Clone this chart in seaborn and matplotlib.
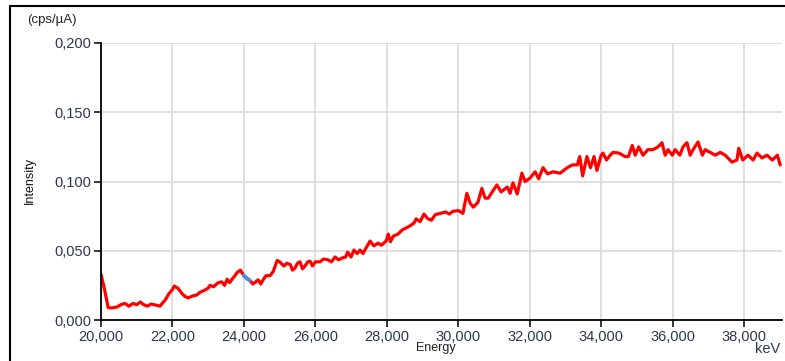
import seaborn as sns
import pandas as pd
from matplotlib import pyplot as plt
from matplotlib.lines import Line2D
from matplotlib.ticker import FuncFormatter

#-------------------------Data-------------------------
energy = [20000, 20100, 20200, 20300, 20450, 20550, 20670, 20780, 20900, 21000,
          21100, 21200, 21300, 21400, 21500, 21650, 21800, 21900, 22000, 22050,
          22150, 22270, 22350, 22440, 22580, 22680, 22770, 22900, 23000, 23050,
          23150, 23280, 23380, 23460, 23530, 23600, 23670, 23750, 23800, 23900,
          23950, 24000, 24080, 24150, 24250, 24330, 24400, 24470, 24550, 24620,
          24730, 24820, 24930, 25000, 25120, 25200, 25300, 25360, 25430, 25500,
          25570, 25640, 25710, 25790, 25850, 25920, 26000, 26130, 26230, 26350,
          26450, 26550, 26650, 26770, 26850, 26900, 27000, 27080, 27170, 27250,
          27330, 27420, 27530, 27640, 27750, 27850, 27980, 28040, 28100, 28180,
          28310, 28430, 28540, 28650, 28760, 28820, 28930, 29040, 29130, 29250,
          29350, 29500, 29650, 29750, 29850, 30000, 30130, 30240, 30330, 30420,
          30550, 30660, 30750, 30840, 30950, 31080, 31200, 31370, 31450, 31530,
          31650, 31780, 31870, 32010, 32150, 32250, 32370, 32500, 32650, 32850,
          33050, 33200, 33330, 33400, 33480, 33600, 33700, 33800, 33880, 34000,
          34050, 34150, 34250, 34330, 34500, 34670, 34760, 34870, 34950, 35050,
          35170, 35310, 35450, 35590, 35700, 35790, 35870, 35990, 36070, 36200,
          36290, 36400, 36490, 36570, 36710, 36830, 36910, 37050, 37190, 37330,
          37470, 37660, 37800, 37850, 37960, 38110, 38250, 38360, 38500, 38640,
          38790, 38930, 39010]

intensity = [0.033, 0.022, 0.009, 0.0087, 0.0094, 0.011, 0.012, 0.010, 0.012, 0.011,
             0.013, 0.011, 0.010, 0.0115, 0.011, 0.010, 0.0145, 0.019, 0.022, 0.0245,
             0.023, 0.019, 0.017, 0.016, 0.0175, 0.018, 0.020, 0.0215, 0.023, 0.025,
             0.024, 0.027, 0.0275, 0.025, 0.0295, 0.027, 0.0295, 0.032, 0.034, 0.036,
             0.034, 0.032, 0.030, 0.029, 0.026, 0.0275, 0.029, 0.026, 0.0295, 0.032,
             0.032, 0.035, 0.043, 0.042, 0.039, 0.041, 0.040, 0.036, 0.0375, 0.041,
             0.042, 0.037, 0.039, 0.042, 0.0425, 0.039, 0.042, 0.042, 0.044, 0.0435,
             0.042, 0.0455, 0.0435, 0.045, 0.0455, 0.049, 0.0455, 0.0505, 0.048, 0.0505,
             0.048, 0.052, 0.057, 0.0535, 0.0555, 0.054, 0.057, 0.062, 0.0565, 0.0605,
             0.062, 0.065, 0.0665, 0.068, 0.070, 0.073, 0.071, 0.0765, 0.0735, 0.072,
             0.076, 0.077, 0.078, 0.0765, 0.0785, 0.079, 0.077, 0.0915, 0.0845, 0.0815,
             0.085, 0.095, 0.088, 0.088, 0.0925, 0.0975, 0.0925, 0.096, 0.0915, 0.099,
             0.091, 0.106, 0.100, 0.1025, 0.107, 0.102, 0.110, 0.1055, 0.107, 0.106,
             0.110, 0.112, 0.112, 0.118, 0.104, 0.118, 0.110, 0.118, 0.108, 0.119,
             0.1205, 0.1155, 0.119, 0.121, 0.1205, 0.118, 0.118, 0.126, 0.119, 0.125,
             0.119, 0.123, 0.123, 0.125, 0.128, 0.119, 0.123, 0.119, 0.123, 0.119,
             0.125, 0.128, 0.119, 0.123, 0.1285, 0.119, 0.123, 0.121, 0.119, 0.121,
             0.119, 0.114, 0.1155, 0.124, 0.1155, 0.119, 0.1155, 0.1205, 0.117, 0.119,
             0.1155, 0.119, 0.112]

#selected (highlighted) segment of the spectrum
sel_energy = [24000, 24080, 24150]
sel_intensity = [0.032, 0.030, 0.029]

x_ticks = [20000, 22000, 24000, 26000, 28000, 30000, 32000, 34000, 36000, 38000]
y_ticks = [0.000, 0.050, 0.100, 0.150, 0.200]

spectrum_df = pd.DataFrame({'Energy': energy, 'Intensity': intensity})
sel_df = pd.DataFrame({'Energy': sel_energy, 'Intensity': sel_intensity})

#-------------------------Plot------------------------------------------------
sns.set_style('white')
plt.rcParams['font.family'] = ['Liberation Sans', 'DejaVu Sans']

fig = plt.figure(figsize=(7.85, 3.61), dpi=100)
ax = fig.add_axes([101/785, 41/361, 681/785, 277/361])

sns.lineplot(data=spectrum_df, x='Energy', y='Intensity', color='#ff0000',
             linewidth=2.3, solid_joinstyle='round', solid_capstyle='round', ax=ax)
sns.lineplot(data=sel_df, x='Energy', y='Intensity', color='#4a90e2',
             linewidth=2.8, solid_capstyle='round', ax=ax)

ax.set_xlim(20000, 39060)
ax.set_ylim(0, 0.2)
ax.set_xticks(x_ticks)
ax.set_yticks(y_ticks)
ax.xaxis.set_major_formatter(FuncFormatter(lambda v, p: '{:,.0f}'.format(v)))
ax.yaxis.set_major_formatter(FuncFormatter(lambda v, p: '{:.3f}'.format(v).replace('.', ',')))

ax.grid(True, color='#dcdcdc', linewidth=1.3)
ax.set_axisbelow(True)
for side in ['top', 'right']:
    ax.spines[side].set_visible(False)
for side in ['left', 'bottom']:
    ax.spines[side].set_color('black')
    ax.spines[side].set_linewidth(1.3)

ax.tick_params(axis='both', direction='out', length=5, width=1.1, color='black',
               labelsize=10.5, labelcolor='#2b3a4a', pad=2, left=True, bottom=True)
ax.set_xlabel('')
ax.set_ylabel('')

#axis titles placed like the instrument software does
fig.text(52/785, 1 - 20/361, '(cps/\u00b5A)', fontsize=9.5, color='#222222',
         ha='center', va='center')
fig.text(30/785, 1 - 180/361, 'Intensity', fontsize=9, color='#111111',
         ha='center', va='center', rotation=90,
         family=['Liberation Sans Narrow', 'Liberation Sans'])
fig.text(436/785, 1 - 348/361, 'Energy', fontsize=9, color='#222222',
         ha='center', va='center')
fig.text(768/785, 1 - 349/361, 'keV', fontsize=10.5, color='#2b3a4a',
         ha='center', va='center')

#screenshot frame (left and top edges)
fig.add_artist(Line2D([10/785, 10/785], [0, 1 - 6/361], color='black', linewidth=1.5,
                      transform=fig.transFigure))
fig.add_artist(Line2D([10/785, 1], [1 - 6/361, 1 - 6/361], color='black', linewidth=1.5,
                      transform=fig.transFigure))

fig.savefig('out.png', dpi=100)
